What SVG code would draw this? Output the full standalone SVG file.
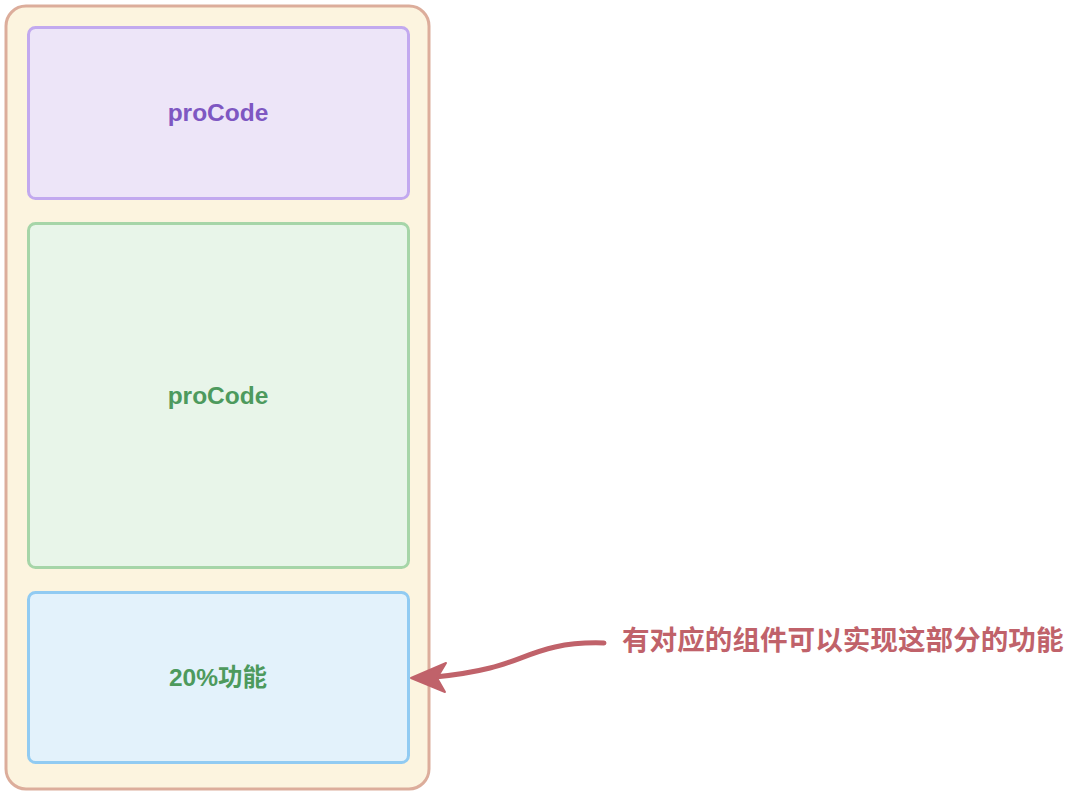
<svg xmlns="http://www.w3.org/2000/svg" width="1080" height="795" viewBox="0 0 1080 795">
<style>
.lbl{font-family:"Liberation Sans","Noto Sans CJK SC",sans-serif;font-weight:bold;font-size:24.5px;text-anchor:middle;dominant-baseline:central}
.box{stroke-width:3}
</style>
<rect width="1080" height="795" fill="#ffffff"/>
<g id="container">
<rect x="6" y="6" width="423" height="783" rx="20" fill="#fcf4df" stroke="#dcad9b" stroke-width="3"/>
</g>
<g id="purple">
<rect class="box" x="28.5" y="27.5" width="380" height="171" rx="7" fill="#ede5f8" stroke="#c2a9ef"/>
<text class="lbl" x="218" y="112" fill="#7e57c2">proCode</text>
</g>
<g id="green">
<rect class="box" x="28.5" y="223.5" width="380" height="344" rx="7" fill="#e8f5e9" stroke="#a6d5a8"/>
<text class="lbl" x="218" y="395" fill="#4d9a5d">proCode</text>
</g>
<g id="blue">
<rect class="box" x="28.5" y="592.5" width="380" height="170" rx="7" fill="#e3f2fb" stroke="#91cbf2"/>
<text class="lbl" x="218" y="677" fill="#4d9a5d">20%功能</text>
</g>
<g id="connectors">
<path d="M604 643 C 545 641, 525 660, 490 668 C 470 673, 455 675, 435 677" fill="none" stroke="#c0626a" stroke-width="5" stroke-linecap="round"/>
<polygon points="411,678 446,663 437,678 445,692" fill="#c0626a" stroke="#c0626a" stroke-width="2" stroke-linejoin="round"/>
</g>
<g id="note">
<text x="622" y="640" font-family="Liberation Sans,'Noto Sans CJK SC',sans-serif" font-weight="bold" font-size="27.6" fill="#c0626a" dominant-baseline="central">有对应的组件可以实现这部分的功能</text>
</g>
</svg>
